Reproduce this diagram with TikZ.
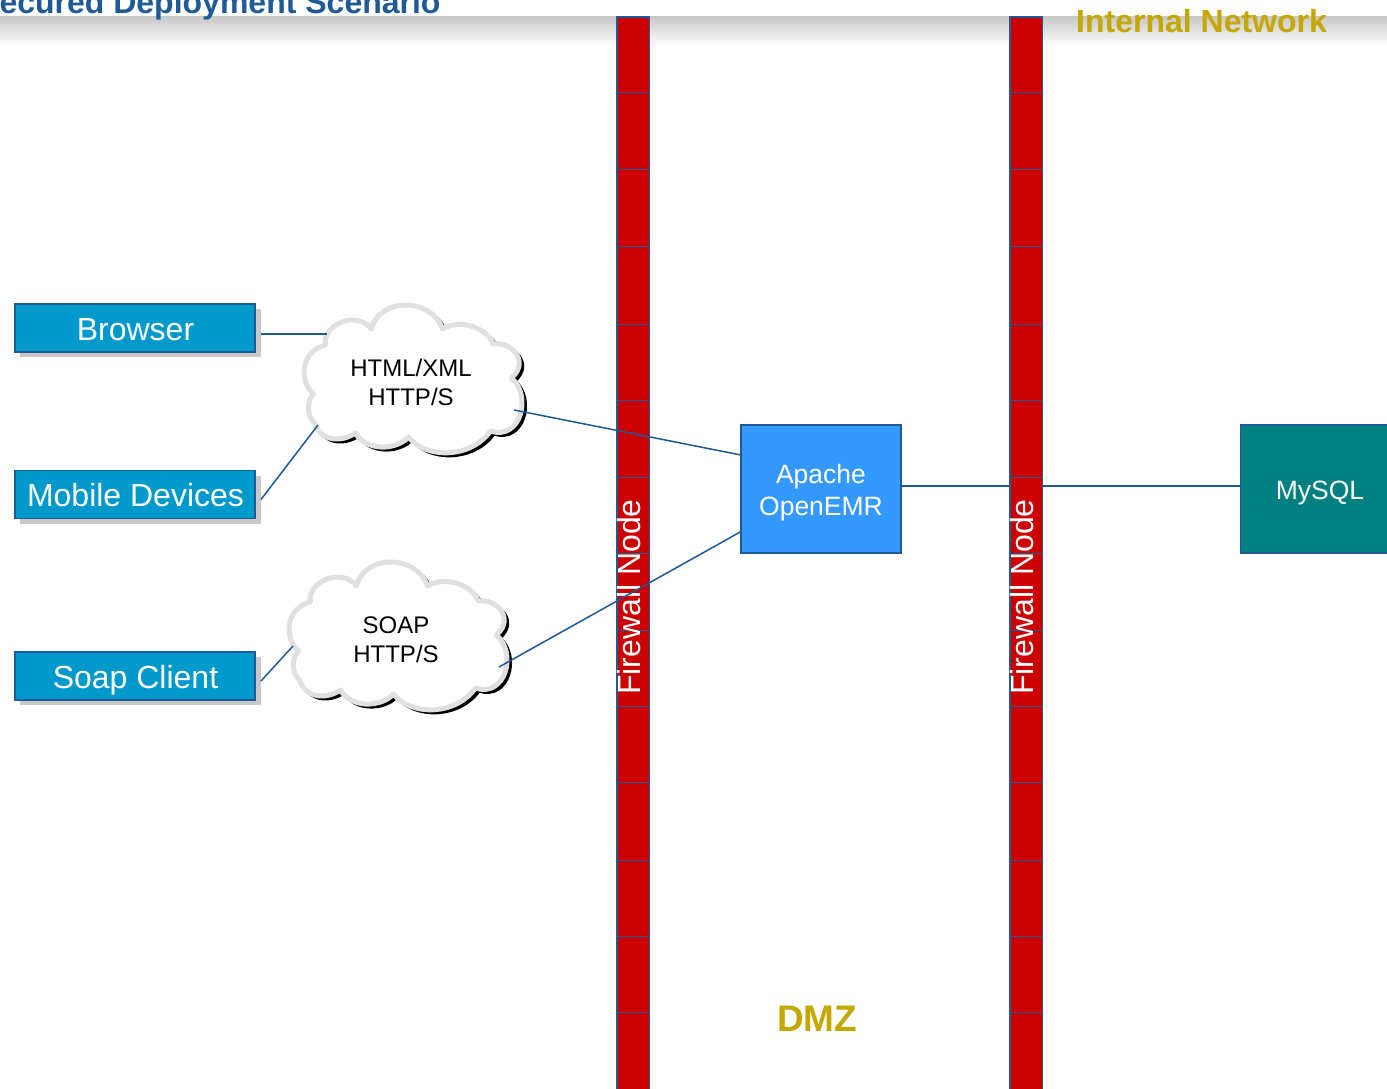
\documentclass[tikz,border=0pt]{standalone}
\usepackage{fontspec}
\setmainfont{Liberation Sans}
\definecolor{linkblue}{HTML}{1F5A96}
\definecolor{boxblue}{HTML}{0099CC}
\definecolor{apacheblue}{HTML}{3399FF}
\definecolor{sqlteal}{HTML}{008080}
\definecolor{fwred}{HTML}{CC0000}
\definecolor{gold}{HTML}{C4A800}
\definecolor{shadowgrey}{HTML}{C8C8C8}
\definecolor{cloudgrey}{HTML}{E0E0E0}
\newcommand{\cloudoutline}{(325,344) .. controls (321,325) and (355,308) .. (371,328)
 .. controls (378,297) and (430,295) .. (442,328)
 .. controls (458,318) and (485,325) .. (493,343)
 .. controls (510,340) and (530,360) .. (511,377)
 .. controls (532,395) and (520,440) .. (490,430)
 .. controls (470,458) and (425,458) .. (408,436)
 .. controls (395,450) and (365,450) .. (355,432)
 .. controls (340,442) and (320,440) .. (314,422)
 .. controls (306,415) and (306,400) .. (313,393)
 .. controls (298,380) and (300,350) .. (325,344) -- cycle}
\newcommand{\cloudlayers}{%
 \fill[black] [shift={(4,3.5)}] \cloudoutline;
 \draw[black,line width=3pt,line join=round] [shift={(3.5,3)}] \cloudoutline;
 \draw[cloudgrey,line width=5pt,fill=white,line join=round] \cloudoutline;
}
\tikzset{
 x=1pt,y=-1pt,
 linkline/.style={draw=linkblue,line width=1.5pt},
 clientbox/.style={draw=linkblue,line width=1.5pt,fill=boxblue,minimum width=240pt,minimum height=48pt,inner sep=0pt,outer sep=0pt},
 boxlabel/.style={text=white,inner sep=0pt,font=\fontsize{32}{32}\selectfont},
 boxshadow/.style={fill=shadowgrey,minimum width=241pt,minimum height=48pt,inner sep=0pt,outer sep=0pt},
 serverbox/.style={draw=linkblue,line width=1.5pt,minimum width=160pt,minimum height=128pt,inner sep=0pt,outer sep=0pt},
 serverlabel/.style={text=white,align=center,inner sep=0pt,font=\fontsize{26.5}{32}\selectfont},
 cloudtext/.style={align=center,inner sep=0pt,font=\fontsize{24}{29}\selectfont},
 fwbar/.style={draw=linkblue,line width=1.5pt,fill=fwred},
 fwdivider/.style={draw=linkblue,line width=1pt},
 fwlabel/.style={rotate=90,anchor=west,text=white,inner sep=0pt,font=\fontsize{32}{32}\selectfont},
 zonelabel/.style={text=gold,inner sep=0pt},
}
\begin{document}
\begin{tikzpicture}
\useasboundingbox (0,0) rectangle (1387,1089);
\fill[white] (0,0) rectangle (1387,1089);
% header
\shade[top color=shadowgrey,bottom color=white] (0,16.5) rectangle (1387,46);
\node[anchor=base west,inner sep=0pt,text=linkblue,font=\bfseries\fontsize{32}{32}\selectfont] (title) at (-22,14) {Secured Deployment Scenario};
\node[zonelabel,anchor=base west,font=\bfseries\fontsize{32}{32}\selectfont] (internal) at (1076,33) {Internal Network};
\node[zonelabel,anchor=base west,font=\bfseries\fontsize{37}{37}\selectfont] (dmz) at (777,1031) {DMZ};
% server-to-database link lies behind the second firewall
\node[serverbox,fill=apacheblue] (apache) at (821,489) {};
\node[serverbox,fill=sqlteal] (mysql) at (1320.5,489) {};
\node[serverlabel] (apachetext) at (821,492.5) {Apache\\OpenEMR};
\node[serverlabel] (mysqltext) at (1320,493) {MySQL};
\coordinate (linkY) at (1000,486);
\draw[linkline] (apache.east |- linkY) -- (mysql.west |- linkY);
% firewalls
\foreach \fx in {617,1010}{
 \path[fwbar] (\fx,17) rectangle (\fx+32.5,1095);
 \foreach \fy in {93,170,246,324,400,477,553,630,706,782,860,936,1012}
  \draw[fwdivider] (\fx,\fy) -- (\fx+32.5,\fy);
}
\node[fwlabel] (fwa) at (629.5,695) {Firewall Node};
\node[fwlabel] (fwb) at (1022.5,695) {Firewall Node};
% client boxes
\node[boxshadow] (browserS) at (140.5,333) {};
\node[boxshadow] (mobileS) at (140.5,499.5) {};
\node[boxshadow] (soapS) at (140.5,681) {};
\node[clientbox] (browser) at (135,328) {};
\node[clientbox] (mobile) at (135,494.5) {};
\node[clientbox] (soap) at (135,676) {};
\node[boxlabel] (browsertext) at (135.5,330) {Browser};
\node[boxlabel] (mobiletext) at (135.5,495.5) {Mobile Devices};
\node[boxlabel] (soaptext) at (135.5,680) {Soap Client};
% clouds
\begin{scope}[shift={(0.5,1)}]
\cloudlayers
\end{scope}
\node[cloudtext] (cloudA) at (411,382.5) {HTML/XML\\HTTP/S};
\begin{scope}[shift={(-14.5,258)}]
\cloudlayers
\end{scope}
\node[cloudtext] (cloudB) at (396,639.5) {SOAP\\HTTP/S};
% connector ends on the clouds
\coordinate (portA1) at (327,334);
\coordinate (portA2) at (318,425);
\coordinate (portA3) at (514,410);
\coordinate (portB1) at (293,646);
\coordinate (portB2) at (499,667);
\draw[linkline] (browserS.east |- portA1) -- (portA1);
\draw[linkline] (mobileS.east) -- (portA2);
\draw[linkline] (soapS.east) -- (portB1);
\draw[linkline] (portA3) -- (apache.157);
\draw[linkline] (portB2) -- (apache.208.3);
\end{tikzpicture}
\end{document}
